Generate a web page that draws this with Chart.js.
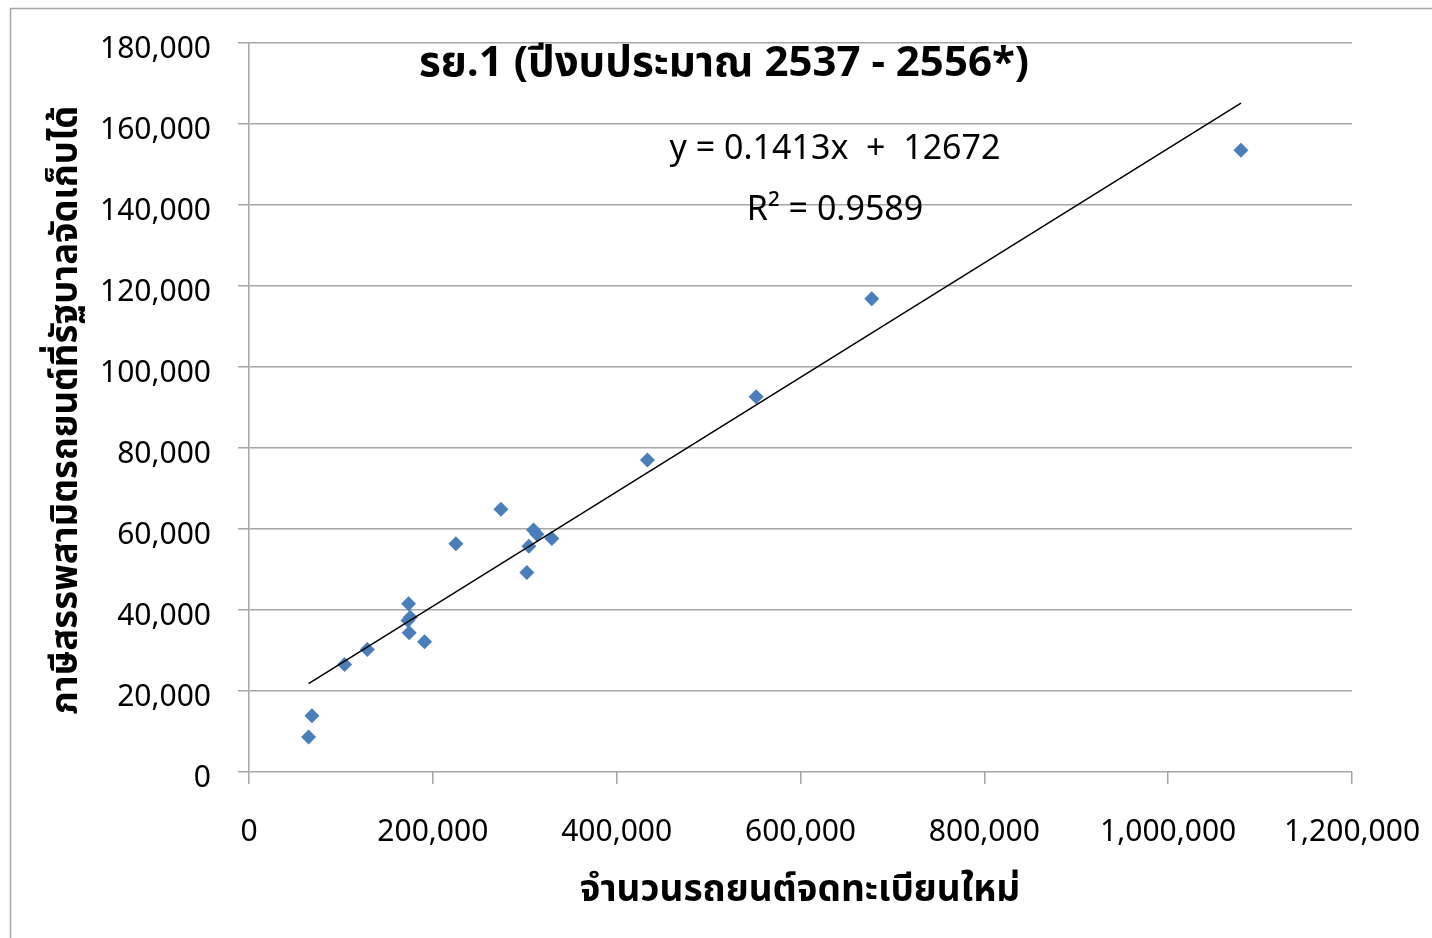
<!DOCTYPE html>
<html>
<head>
<meta charset="utf-8">
<script src="https://cdn.jsdelivr.net/npm/chart.js@4"></script>
<style>
  html, body { margin: 0; padding: 0; background: #fff; }
  #wrap { width: 1432px; height: 938px; }
</style>
</head>
<body>
<div id="wrap"><canvas id="taxChart" width="1432" height="938"></canvas></div>
<script>
// new cars registered (x) vs excise tax collected (y), fiscal years 2537 - 2556
var newCars = [64800, 68500, 104000, 128700, 173600, 175400, 172900, 174300, 191000, 225100,
               274100, 302300, 304500, 309500, 313200, 329500, 433500, 551700, 677500, 1079200];
var exciseTax = [8640, 13890, 26520, 30250, 41530, 38240, 37400, 34370, 32150, 56330,
                 64890, 49250, 55760, 59780, 58720, 57640, 77050, 92670, 116850, 153520];

var chartTitle = 'รย.1 (ปีงบประมาณ 2537 - 2556*)';
var xTitle = 'จำนวนรถยนต์จดทะเบียนใหม่';
var yTitle = 'ภาษีสรรพสามิตรถยนต์ที่รัฐบาลจัดเก็บได้';

// linear trendline as printed on the chart
var slope = 0.1413;
var intercept = 12672;
var rSquared = '0.9589';
var eqLabel = 'y = ' + slope + 'x  +  ' + intercept;
var r2Label = 'R² = ' + rSquared;

var xTicks = [0, 200000, 400000, 600000, 800000, 1000000, 1200000];
var yTicks = [0, 20000, 40000, 60000, 80000, 100000, 120000, 140000, 160000, 180000];

var FONT = "'Noto Sans Thai', 'Noto Sans', sans-serif";

var points = [];
for (var i = 0; i < newCars.length; i++) {
    points.push({x: newCars[i], y: exciseTax[i]});
}
var xMin = Math.min.apply(null, newCars);
var xMax = Math.max.apply(null, newCars);
var trend = [
    {x: xMin, y: slope * xMin + intercept},
    {x: xMax, y: slope * xMax + intercept}
];

function fmt(v) {
    return v.toLocaleString('en-US');
}

// frame, titles and the equation text
var textPlugin = {
    id: 'textPlugin',
    beforeDraw: function (chart) {
        var c = chart.ctx;
        c.save();
        c.fillStyle = '#fff';
        c.fillRect(0, 0, chart.width, chart.height);
        c.strokeStyle = '#a6a6a6';
        c.lineWidth = 1.5;
        c.strokeRect(10.5, 8.5, chart.width + 20, chart.height + 20);
        c.restore();
    },
    afterDraw: function (chart) {
        var c = chart.ctx;
        c.save();
        c.fillStyle = '#000';
        c.textAlign = 'center';
        c.textBaseline = 'middle';

        c.font = 'bold 42px ' + FONT;
        c.fillText(chartTitle, 724, 68);

        c.font = '34px ' + FONT;
        c.fillText(eqLabel, 835, 152);
        c.fillText(r2Label, 835, 213);

        c.font = 'bold 37px ' + FONT;
        c.fillText(xTitle, 800, 894);

        c.translate(70, 410);
        c.rotate(-Math.PI / 2);
        c.font = 'bold 36.5px ' + FONT;
        c.fillText(yTitle, 0, 0);
        c.restore();
    }
};

var ctx = document.getElementById('taxChart');
var taxChart = new Chart(ctx, {
    type: 'scatter',
    data: {
        datasets: [{
            label: 'ภาษีสรรพสามิต',
            data: points,
            pointStyle: 'rectRot',
            pointRadius: 7.5,
            backgroundColor: '#4a7ebb',
            borderColor: '#4a7ebb',
            borderWidth: 0,
            order: 2
        }, {
            type: 'line',
            label: 'Linear',
            data: trend,
            borderColor: '#000',
            borderWidth: 1.5,
            pointRadius: 0,
            fill: false,
            order: 1
        }]
    },
    options: {
        responsive: false,
        animation: false,
        layout: {
            padding: {left: 0, top: 43, right: 80, bottom: 0}
        },
        plugins: {
            legend: {display: false},
            tooltip: {enabled: false}
        },
        scales: {
            x: {
                type: 'linear',
                min: 0,
                max: 1200000,
                afterBuildTicks: function (axis) {
                    axis.ticks = xTicks.map(function (v) { return {value: v}; });
                },
                afterFit: function (axis) {
                    axis.height = 166;
                    axis.paddingLeft = 0;
                    axis.paddingRight = 0;
                },
                grid: {
                    drawOnChartArea: false,
                    drawTicks: true,
                    tickLength: 12,
                    color: '#a6a6a6',
                    lineWidth: 1.5
                },
                border: {display: false},
                ticks: {
                    color: '#000',
                    padding: 33,
                    maxRotation: 0,
                    font: {family: FONT, size: 30},
                    callback: function (v) { return fmt(v); }
                }
            },
            y: {
                type: 'linear',
                min: 0,
                max: 180000,
                afterBuildTicks: function (axis) {
                    axis.ticks = yTicks.map(function (v) { return {value: v}; });
                },
                afterFit: function (axis) {
                    axis.width = 249;
                    axis.paddingTop = 0;
                    axis.paddingBottom = 0;
                },
                grid: {
                    drawTicks: true,
                    tickLength: 11,
                    color: '#a6a6a6',
                    lineWidth: 1.5
                },
                border: {display: true, color: '#a6a6a6', width: 1.5},
                ticks: {
                    color: '#000',
                    padding: 27,
                    labelOffset: 9,
                    font: {family: FONT, size: 30},
                    callback: function (v) { return fmt(v); }
                }
            }
        }
    },
    plugins: [textPlugin]
});
</script>
</body>
</html>
